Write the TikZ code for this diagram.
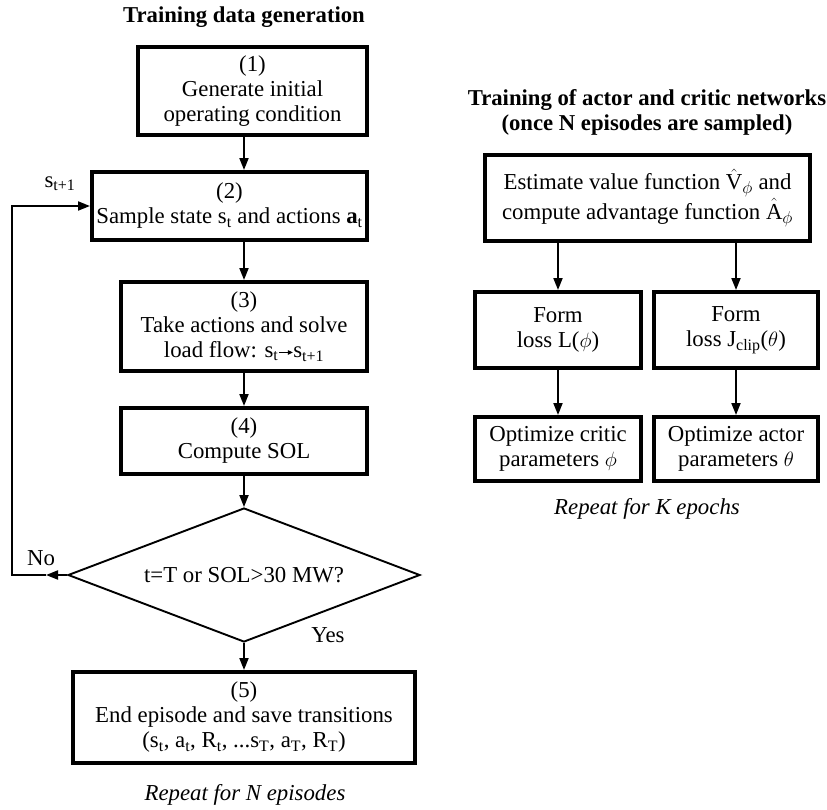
\documentclass[tikz,border=0pt]{standalone}
\usepackage{amsmath}
\usepackage{fontspec}
\setmainfont{Liberation Serif}
\usetikzlibrary{arrows.meta,shapes.geometric}

\newcommand{\smallarrow}{\raisebox{0.28ex}{\tikz\draw[line width=0.9pt,-{Triangle[length=5pt,width=4.5pt]}] (0,0) -- (14pt,0);}}

\begin{document}
\begin{tikzpicture}[x=1pt,y=-1pt,
  txt/.style={font=\fontsize{22.8}{25}\selectfont, align=center, inner sep=0pt},
  box/.style={txt, draw, line width=4pt},
  arr/.style={line width=1.9pt, -{Triangle[length=12pt,width=9pt]}},
  decision/.style={txt, draw, diamond, line width=1.9pt, aspect=2.63,
    minimum width=352pt, minimum height=134pt},
  heading/.style={txt, font=\fontsize{22.7}{25}\selectfont\bfseries},
  note/.style={txt, font=\fontsize{22.8}{25}\selectfont\itshape}]
\useasboundingbox (0,0) rectangle (827,809);

% ---- training data generation ----
\node[heading] (t1) at (244,17) {Training data generation};

\node[box, minimum width=229pt, minimum height=88pt] (b1) at (252.5,91)
  {(1)\\Generate initial\\operating condition};
\node[box, minimum width=275pt, minimum height=68pt] (b2) at (229.5,206)
  {(2)\\Sample state s\textsubscript{t} and actions \textbf{a}\textsubscript{t}};
\node[box, minimum width=246pt, minimum height=89pt] (b3) at (244,326.5)
  {(3)\\Take actions and solve\\load flow: s\textsubscript{t}\smallarrow s\textsubscript{t+1}};
\node[box, minimum width=246pt, minimum height=66pt] (b4) at (244,441)
  {(4)\\Compute SOL};
\node[decision] (d) at (244,575) {t=T or SOL>30 MW?};
\node[box, minimum width=342pt, minimum height=91pt] (b5) at (244,717.5)
  {(5)\\End episode and save transitions\\(s\textsubscript{t}, a\textsubscript{t}, R\textsubscript{t}, ...s\textsubscript{T}, a\textsubscript{T}, R\textsubscript{T})};
\node[note] (n1) at (245,795) {Repeat for N episodes};

\node[txt] (lst) at (60,184) {s\textsubscript{t+1}};
\node[txt] (lno) at (41,558) {No};
\node[txt] (lyes) at (328,635) {Yes};

\draw[arr] (b1.south -| d.north) -- (b2.north -| d.north);
\draw[arr] (b2.south -| d.north) -- (b3.north);
\draw[arr] (b3.south) -- (b4.north);
\draw[arr] (b4.south) -- (d.north);
\draw[arr] (d.south) -- (b5.north);

\coordinate (nomark) at (46,575);
\coordinate (cnr) at (12,575);
\draw[arr] (d.west) -- (nomark);
\draw[arr] (nomark) -- (cnr) |- (b2.west);

% ---- training of actor and critic ----
\node[heading] (t2) at (647,112)
  {Training of actor and critic networks\\(once N episodes are sampled)};

\node[box, minimum width=325pt, minimum height=86pt,
  font=\fontsize{22.8}{30}\selectfont] (e) at (647.5,198)
  {Estimate value function $\hat{\text{V}}_{\phi}$ and\\compute advantage function $\hat{\text{A}}_{\phi}$};
\node[box, minimum width=166pt, minimum height=76pt] (fl) at (558,330)
  {Form\\loss L($\phi$)};
\node[box, minimum width=164pt, minimum height=76pt] (fr) at (736,330)
  {Form\\loss J\textsubscript{clip}($\theta$)};
\node[box, minimum width=166pt, minimum height=64pt] (ol) at (558,449)
  {Optimize critic\\parameters $\phi$};
\node[box, minimum width=164pt, minimum height=64pt] (or) at (736,449)
  {Optimize actor\\parameters $\theta$};
\node[note] (n2) at (647,509) {Repeat for K epochs};

\draw[arr] (e.south -| fl.north) -- (fl.north);
\draw[arr] (e.south -| fr.north) -- (fr.north);
\draw[arr] (fl.south) -- (ol.north);
\draw[arr] (fr.south) -- (or.north);
\end{tikzpicture}
\end{document}
